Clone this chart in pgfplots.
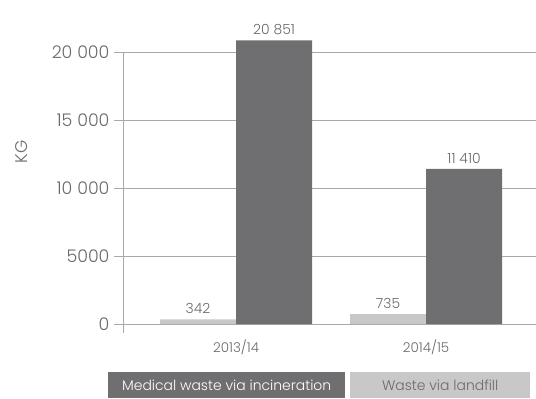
\documentclass[border=0pt]{standalone}
\usepackage{fontspec}
\setmainfont{Poppins}[UprightFont=* Light]
\usepackage{pgfplots}
\pgfplotsset{compat=1.18}

\definecolor{barDark}{HTML}{6F6F71}
\definecolor{barLight}{HTML}{C8C8C8}
\definecolor{gridGray}{HTML}{A8A8A8}
\definecolor{textGray}{HTML}{6A6A6A}

\begin{document}
\begin{tikzpicture}[x=1bp,y=1bp]
\useasboundingbox (0,0) rectangle (536,-398);
\begin{axis}[
  scale only axis,
  at={(123bp,-333bp)}, anchor=south west,
  width=407bp, height=281bp,
  xmin=-0.595, xmax=1.547,
  ymin=-660, ymax=20000,
  clip=false,
  axis line style={draw=none},
  xtick={0,1},
  xticklabels={2013/14,2014/15},
  xtick style={draw=none},
  xticklabel style={font=\fontsize{13.5}{15}\selectfont, text=textGray, yshift=6bp},
  ytick={0,5000,10000,15000,20000},
  scaled y ticks=false,
  ytick style={draw=gridGray, line width=0.8pt},
  tick align=outside,
  major tick length=9bp,
  ymajorgrids,
  grid style={draw=gridGray, line width=0.8pt},
  yticklabel style={font=\fontsize{17.5}{19}\selectfont, text=textGray, xshift=-1bp},
  /pgf/number format/.cd, 1000 sep={\ }, min exponent for 1000 sep=4,
  /pgfplots/.cd,
  /pgf/number format/assume math mode=true,
  ybar,
  bar width=0.4,
  nodes near coords,
  nodes near coords style={font=\fontsize{14}{16}\selectfont, text=textGray, yshift=2bp},
]
% landfill
\addplot[draw=none, fill=barLight, bar shift=-0.2] coordinates {(0,342) (1,735)};
% incineration
\addplot[draw=none, fill=barDark, bar shift=0.2] coordinates {(0,20851) (1,11410)};
% left axis line
\draw[gridGray, line width=0.8pt] (rel axis cs:0,0) -- (rel axis cs:0,1);
\end{axis}
% axis title
\node[rotate=90, text=textGray, font=\fontsize{17}{19}\selectfont] at (22,-152) {KG};
% legend boxes
\node[fill=barDark, text=white, anchor=north west, minimum width=237bp, minimum height=26bp, inner sep=0pt,
      font=\fontsize{14}{16}\selectfont] at (108,-372) {Medical waste via incineration};
\node[fill=barLight, text=textGray, anchor=north west, minimum width=180bp, minimum height=26bp, inner sep=0pt,
      font=\fontsize{14}{16}\selectfont] at (350,-372) {Waste via landfill};
\end{tikzpicture}
\end{document}
